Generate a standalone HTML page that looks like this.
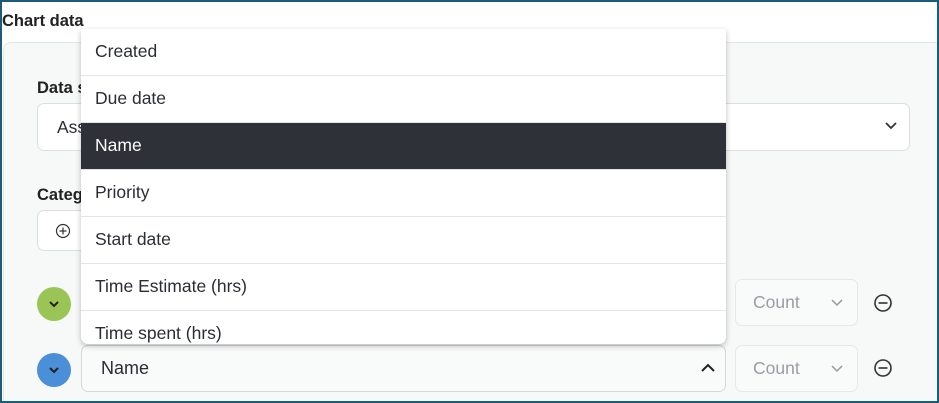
<!DOCTYPE html>
<html><head><style>
body{margin:0;width:939px;height:403px;overflow:hidden;font-family:"Liberation Sans",sans-serif;background:#fff}
.frame{position:absolute;left:0;top:0;width:939px;height:403px;background:#fff;overflow:hidden}
.bord{position:absolute;left:0;top:0;width:935px;height:399px;border:2px solid #1b5d78;z-index:10}
.abs{position:absolute}
.title{left:2px;top:12px;font-size:16.5px;font-weight:bold;color:#222}
.panel{left:3px;top:42px;width:940px;height:380px;background:#f7f8f8;border-top:1px solid #e3e5e7;border-left:1px solid #e3e5e7;border-top-left-radius:8px}
.lbl{font-size:16.5px;font-weight:bold;color:#222}
.box{background:#fff;border:1px solid #dcdfe2;border-radius:7px;box-sizing:border-box}
.dd{left:81px;top:29px;width:645px;height:315px;background:#fff;border-radius:0 0 7px 7px;box-shadow:0 2px 6px rgba(0,0,0,.25);overflow:hidden}
.row{height:46px;border-bottom:1px solid #e3e5e7;font-size:17.5px;color:#2a2d33;padding-left:14px;line-height:44px;box-sizing:content-box}
.row.sel{background:#2e3138;color:#fff}
.circ{width:34px;height:34px;border-radius:50%}
.count{font-size:17.5px;color:#9a9ea3;background:#f9fafa;border:1px solid #e6e8ea;border-radius:7px;box-sizing:border-box}
</style></head><body>
<div class="frame">
<div class="abs panel"></div>
<div class="abs title">Chart data</div>
<div class="abs lbl" style="left:37px;top:79px">Data s</div>
<div class="abs box" style="left:37px;top:103px;width:873px;height:48px;font-size:17.5px;color:#2a2d33;padding:13px 19px">Ass</div>
<svg class="abs" style="left:884px;top:121px" width="14" height="10"><path d="M2 2l5 5 5-5" fill="none" stroke="#333" stroke-width="1.8"/></svg>
<div class="abs lbl" style="left:37px;top:186px">Categ</div>
<div class="abs box" style="left:37px;top:210px;width:60px;height:41px"></div>
<svg class="abs" style="left:55px;top:223px" width="16" height="16"><circle cx="8" cy="8" r="6.5" fill="none" stroke="#333" stroke-width="1.2"/><path d="M8 4.5v7M4.5 8h7" stroke="#333" stroke-width="1.2"/></svg>
<div class="abs circ" style="left:37px;top:287px;background:#9ac556"></div>
<svg class="abs" style="left:47px;top:299px" width="14" height="10"><path d="M3 3l4 4 4-4" fill="none" stroke="#222" stroke-width="2"/></svg>
<div class="abs circ" style="left:37px;top:353px;background:#4a8fd8"></div>
<svg class="abs" style="left:47px;top:365px" width="14" height="10"><path d="M3 3l4 4 4-4" fill="none" stroke="#222" stroke-width="2"/></svg>
<div class="abs box" style="left:81px;top:345px;width:645px;height:47px;background:#f9fafa;border-color:#d4d7da;font-size:18px;color:#2a2d33;padding:12px 19px">Name</div>
<svg class="abs" style="left:700px;top:363px" width="16" height="10"><path d="M2 8l6-6 6 6" fill="none" stroke="#222" stroke-width="2"/></svg>
<div class="abs count" style="left:735px;top:279px;width:123px;height:47px;padding:12px 17px">Count</div>
<div class="abs count" style="left:735px;top:345px;width:123px;height:47px;padding:12px 17px">Count</div>
<svg class="abs" style="left:830px;top:298px" width="14" height="10"><path d="M2 2l5 5 5-5" fill="none" stroke="#999" stroke-width="1.5"/></svg>
<svg class="abs" style="left:830px;top:364px" width="14" height="10"><path d="M2 2l5 5 5-5" fill="none" stroke="#999" stroke-width="1.5"/></svg>
<svg class="abs" style="left:873px;top:293px" width="20" height="20"><circle cx="10" cy="10" r="8" fill="none" stroke="#333" stroke-width="1.6"/><path d="M5.5 10h9" stroke="#333" stroke-width="1.6"/></svg>
<svg class="abs" style="left:873px;top:358px" width="20" height="20"><circle cx="10" cy="10" r="8" fill="none" stroke="#333" stroke-width="1.6"/><path d="M5.5 10h9" stroke="#333" stroke-width="1.6"/></svg>
<div class="abs dd">
<div class="row">Created</div>
<div class="row">Due date</div>
<div class="row sel">Name</div>
<div class="row">Priority</div>
<div class="row">Start date</div>
<div class="row">Time Estimate (hrs)</div>
<div class="row" style="border:none">Time spent (hrs)</div>
</div>
</div>
<div class="bord"></div>
</body></html>
